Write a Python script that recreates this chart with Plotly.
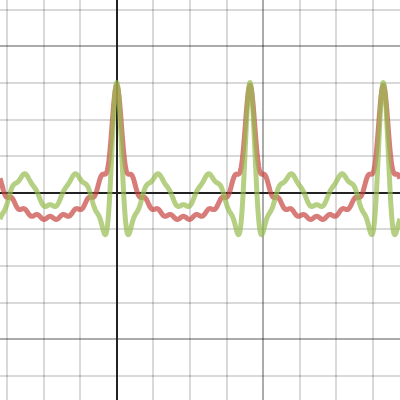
import numpy as np
import plotly.graph_objects as go

# Chart content: two periodic cosine sums (coefficients)
period = 3.642                      # distance between peaks, in grid units
harmonics = list(range(1, 11))
red_coef = [1/1, 1/2, 1/3, 1/4, 1/5, 1/6, 1/7, 1/8, 1/9, 1/10]
green_offset = 0.065
green_coef = [0.115, 0.045, 0.700, 0.537, 0.449, 0.386, 0.265, 0.205, 0.138, 0.101]

x_range = [-3.19, 7.74]
y_range = [-5.664, 5.265]

x = np.linspace(x_range[0], x_range[1], 3000)
th = 2 * np.pi * x / period
red_y = sum(c * np.cos(n * th) for n, c in zip(harmonics, red_coef))
green_y = green_offset + sum(c * np.cos(n * th) for n, c in zip(harmonics, green_coef))

fig = go.Figure()
fig.add_trace(go.Scatter(x=x, y=red_y, mode="lines",
                         line=dict(color="rgba(199,68,64,0.7)", width=5, simplify=False),
                         hoverinfo="skip"))
fig.add_trace(go.Scatter(x=x, y=green_y, mode="lines",
                         line=dict(color="rgba(150,186,78,0.7)", width=5, simplify=False),
                         hoverinfo="skip"))

axis_common = dict(
    showticklabels=False, ticks="", showline=False,
    dtick=4, tick0=0, gridcolor="rgba(0,0,0,0.33)", gridwidth=1.6,
    minor=dict(dtick=1, tick0=0, gridcolor="rgba(0,0,0,0.15)", gridwidth=1.6, showgrid=True),
    zeroline=True, zerolinecolor="#222222", zerolinewidth=2.2,
    fixedrange=True,
)
fig.update_xaxes(range=x_range, **axis_common)
fig.update_yaxes(range=y_range, **axis_common)
fig.update_layout(
    width=400, height=400,
    margin=dict(l=0, r=0, t=0, b=0),
    plot_bgcolor="white", paper_bgcolor="white",
    showlegend=False,
)
fig.write_html("out.html", config={"displayModeBar": False},
               post_script="document.body.style.margin='0';document.body.style.overflow='hidden';")
